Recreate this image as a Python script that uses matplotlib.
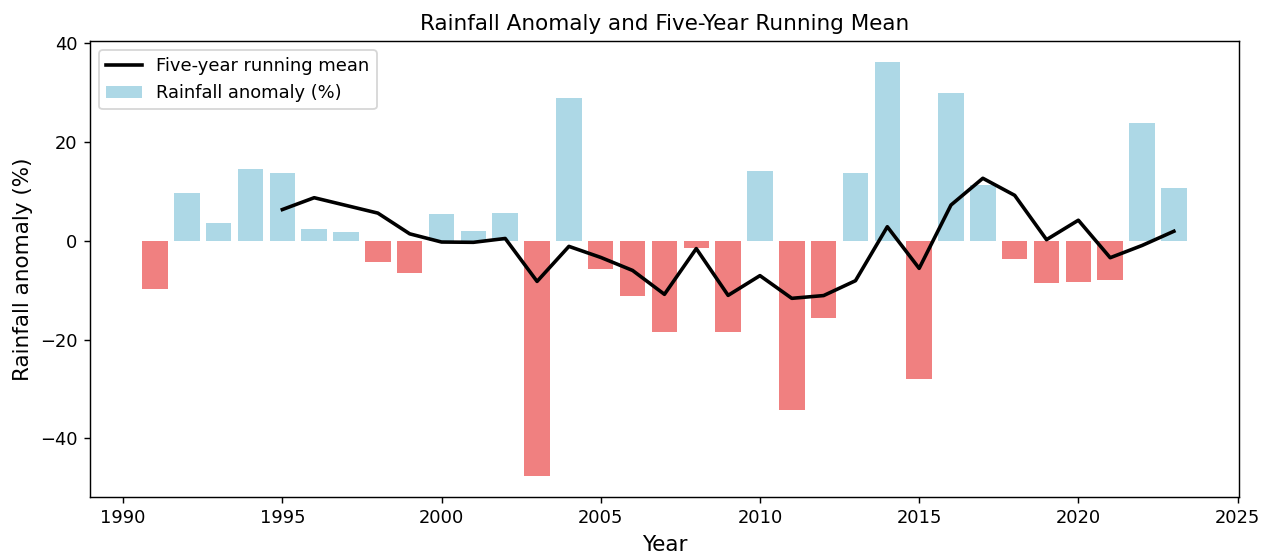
import numpy as np
import pandas as pd
import matplotlib
matplotlib.use("Agg")
import matplotlib.pyplot as plt
from matplotlib.patches import Patch
from matplotlib.lines import Line2D

years = list(range(1991, 2024))
anomaly = [-9.7, 9.6, 3.6, 14.5, 13.7, 2.3, 1.8, -4.2, -6.5, 5.4,
           2.0, 5.7, -47.7, 29.0, -5.8, -11.2, -18.5, -1.35, -18.4, 14.2,
           -34.2, -15.7, 13.7, 36.3, -28.0, 30.0, 11.4, -3.6, -8.6, -8.3,
           -8.0, 23.8, 10.8]

series = pd.Series(anomaly, index=years)
running_mean = series.rolling(5).mean()

colors = ["lightblue" if v >= 0 else "lightcoral" for v in anomaly]

DPI = 129
fig, ax = plt.subplots(figsize=(1268 / DPI, 554 / DPI), dpi=DPI)
fig.subplots_adjust(left=0.071, right=0.977, top=0.926, bottom=0.103)

ax.bar(years, anomaly, width=0.8, color=colors)
ax.plot(running_mean.index, running_mean.values, color="black", linewidth=2)

ax.set_title("Rainfall Anomaly and Five-Year Running Mean", fontsize=12)
ax.set_xlabel("Year", fontsize=12)
ax.set_ylabel("Rainfall anomaly (%)", fontsize=12)

handles = [Line2D([0], [0], color="black", linewidth=2),
           Patch(facecolor="lightblue")]
ax.legend(handles, ["Five-year running mean", "Rainfall anomaly (%)"],
          loc="upper left")

fig.savefig("out.png", dpi=DPI)
